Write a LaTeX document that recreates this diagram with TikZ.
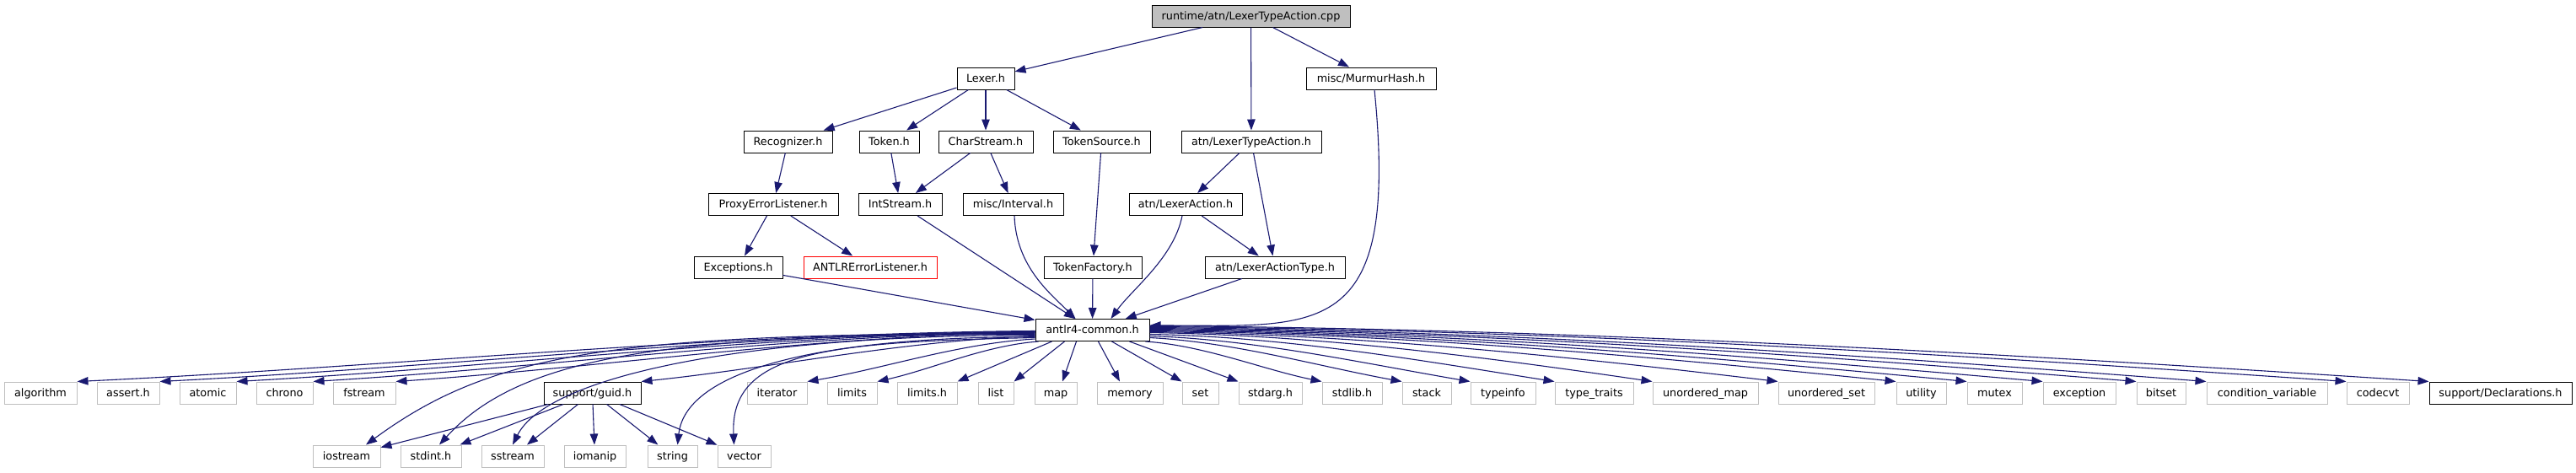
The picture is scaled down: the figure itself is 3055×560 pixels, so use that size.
\documentclass[tikz,border=0pt]{standalone}
\usepackage{fontspec}
\setmainfont{DejaVu Sans}
\usetikzlibrary{arrows.meta,calc}
\definecolor{edgec}{HTML}{191970}
\definecolor{grayb}{HTML}{BFBFBF}
\tikzset{
  box/.style={draw=black, line width=1.0pt, rectangle, inner sep=0pt,
    minimum height=26pt, text height=11pt, text depth=2.6pt,
    font=\fontsize{12.8}{14}\selectfont, text=black},
  sysbox/.style={box, draw=grayb},
  redbox/.style={box, draw=red},
  rootbox/.style={box, fill=grayb},
  mw/.style={minimum width=#1pt},
  edge/.style={draw=edgec, line width=1.1pt, -{Triangle[length=13pt,width=9.5pt]}},
}
\newcommand\fanedge[4]{\draw[edge] let \p1=(#1), \p2=(#2) in (\p1) .. controls ({\x1+(\x2-\x1)/3},{\y1+(\y2-\y1)*#3}) and ({\x2-(\x2-\x1)/3},{\y2-(\y2-\y1)*#4}) .. (\p2);}
\begin{document}
\begin{tikzpicture}[x=1pt,y=-1pt]
\useasboundingbox (0,0) rectangle (3055,560);
% top part
\node[rootbox, mw=235] (root) at (1483.5,19) {runtime/atn/LexerTypeAction.cpp};
\node[box, mw=68] (lexer) at (1169,93) {Lexer.h};
\node[box, mw=154] (murmur) at (1626,93) {misc/MurmurHash.h};
\node[box, mw=105] (recog) at (934.5,168) {Recognizer.h};
\node[box, mw=71] (token) at (1054.5,168) {Token.h};
\node[box, mw=112] (charstream) at (1169,168) {CharStream.h};
\node[box, mw=115] (tokensource) at (1306.5,168) {TokenSource.h};
\node[box, mw=166] (lta) at (1484,168) {atn/LexerTypeAction.h};
\node[box, mw=154] (proxy) at (917,242.5) {ProxyErrorListener.h};
\node[box, mw=99] (intstream) at (1067.5,242.5) {IntStream.h};
\node[box, mw=119] (interval) at (1201.5,242.5) {misc/Interval.h};
\node[box, mw=134] (lexaction) at (1406,242.5) {atn/LexerAction.h};
\node[box, mw=105] (exceptions) at (875.5,317) {Exceptions.h};
\node[redbox, mw=158] (antlrerr) at (1032,317) {ANTLRErrorListener.h};
\node[box, mw=116] (tokenfactory) at (1296,317) {TokenFactory.h};
\node[box, mw=166] (lat) at (1512,317) {atn/LexerActionType.h};
\node[box, mw=135] (common) at (1295.5,391.5) {antlr4-common.h};
% row 6
\node[sysbox, mw=86] (algorithm) at (48,466) {algorithm};
\node[sysbox, mw=74] (asserth) at (152,466) {assert.h};
\node[sysbox, mw=67] (atomic) at (246.5,466) {atomic};
\node[sysbox, mw=67] (chrono) at (337.5,466) {chrono};
\node[sysbox, mw=74] (fstream) at (432,466) {fstream};
\node[box, mw=115] (guid) at (702.5,466) {support/guid.h};
\node[sysbox, mw=71] (iterator) at (921.5,466) {iterator};
\node[sysbox, mw=59] (limits) at (1010.5,466) {limits};
\node[sysbox, mw=71] (limitsh) at (1099.5,466) {limits.h};
\node[sysbox, mw=42] (list) at (1181,466) {list};
\node[sysbox, mw=50] (map) at (1252,466) {map};
\node[sysbox, mw=78] (memory) at (1340,466) {memory};
\node[sysbox, mw=43] (set) at (1423.5,466) {set};
\node[sysbox, mw=75] (stdargh) at (1506.5,466) {stdarg.h};
\node[sysbox, mw=71] (stdlibh) at (1603.5,466) {stdlib.h};
\node[sysbox, mw=58] (stack) at (1692,466) {stack};
\node[sysbox, mw=77] (typeinfo) at (1782.5,466) {typeinfo};
\node[sysbox, mw=93] (typetraits) at (1890.5,466) {type\_traits};
\node[sysbox, mw=125] (umap) at (2022.5,466) {unordered\_map};
\node[sysbox, mw=114] (uset) at (2166,466) {unordered\_set};
\node[sysbox, mw=59] (utility) at (2278.5,466) {utility};
\node[sysbox, mw=65] (mutex) at (2365.5,466) {mutex};
\node[sysbox, mw=86] (exception) at (2466,466) {exception};
\node[sysbox, mw=58] (bitset) at (2563,466) {bitset};
\node[sysbox, mw=143] (condvar) at (2688.5,466) {condition\_variable};
\node[sysbox, mw=74] (codecvt) at (2820,466) {codecvt};
\node[box, mw=169] (decl) at (2965.5,466) {support/Declarations.h};
% row 7
\node[sysbox, mw=80] (iostream) at (411,541) {iostream};
\node[sysbox, mw=72] (stdinth) at (511,541) {stdint.h};
\node[sysbox, mw=74] (sstream) at (608,541) {sstream};
\node[sysbox, mw=73] (iomanip) at (705.5,541) {iomanip};
\node[sysbox, mw=59] (string) at (797.5,541) {string};
\node[sysbox, mw=63] (vector) at (882.5,541) {vector};

% straight edges
\draw[edge] (root) -- (lexer);
\draw[edge] (root) -- (lta);
\draw[edge] (root) -- (murmur);
\draw[edge] (lexer) -- (recog);
\draw[edge] (lexer) -- (token);
\draw[edge] (lexer) -- (charstream);
\draw[edge] (lexer) -- (tokensource);
\draw[edge] (recog) -- (proxy);
\draw[edge] (token) -- (intstream);
\draw[edge] (charstream) -- (intstream);
\draw[edge] (charstream) -- (interval);
\draw[edge] (tokensource) -- (tokenfactory);
\draw[edge] (proxy) -- (exceptions);
\draw[edge] (proxy) -- (antlrerr);
\draw[edge] (lta) -- (lexaction);
\draw[edge] (lta) -- (lat);
\draw[edge] (lexaction) -- (lat);
\draw[edge] (intstream) -- (common);
\draw[edge] (tokenfactory) -- (common);
\draw[edge] (lat) -- (common);
\draw[edge] (exceptions) -- (common);
% curved edges into common
\draw[edge] ($(interval.south)+(1.5,0)$) .. controls +(2,60) and +(-30,-30) .. ($(common.north)+(-20,0)$);
\draw[edge] ($(lexaction.south)+(-4,0)$) .. controls +(-10,50) and +(25,-35) .. ($(common.north)+(22,0)$);
\draw[edge] ($(murmur.south)+(4,0)$) .. controls +(30,300) and +(200,0) .. ($(common.east)+(0,-5.5)$);
% guid edges
\draw[edge] (guid) -- (iostream);
\draw[edge] (guid) -- (stdinth);
\draw[edge] (guid) -- (sstream);
\draw[edge] (guid) -- (iomanip);
\draw[edge] (guid) -- (string);
\draw[edge] (guid) -- (vector);
% left fan
\fanedge{$(common.west)+(0,1)$}{algorithm.north east}{0.05}{0.3}
\fanedge{$(common.west)+(0,1.5)$}{asserth.north east}{0.05}{0.3}
\fanedge{$(common.west)+(0,2)$}{atomic.north east}{0.05}{0.3}
\fanedge{$(common.west)+(0,2.5)$}{chrono.north east}{0.05}{0.3}
\fanedge{$(common.west)+(0,3)$}{fstream.north east}{0.05}{0.3}
\fanedge{$(common.west)+(0,7)$}{guid.north east}{0.1}{0.3}
\fanedge{$(common.south west)+(0,-3)$}{iterator.north east}{0.1}{0.3}
\fanedge{$(common.south west)+(4,0)$}{limits.north east}{0.1}{0.3}
\draw[edge] ($(common.south)+(-48,0)$) -- (limitsh.north east);
\draw[edge] ($(common.south)+(-33,0)$) -- (list.north east);
\draw[edge] ($(common.south)+(-19,0)$) -- ($(map.north)+(8,0)$);
\draw[edge] ($(common.south)+(7,0)$) -- ($(memory.north)+(-12,0)$);
% row 7 curves
\draw[edge] ($(common.west)+(0,4)$) .. controls +(-500,0) and +(150,-110) .. ($(iostream.north)+(23,0)$);
\draw[edge] ($(common.west)+(0,5)$) .. controls +(-420,0) and +(100,-110) .. ($(stdinth.north)+(10,0)$);
\draw[edge] ($(common.west)+(0,6)$) .. controls +(-350,0) and +(40,-80) .. (sstream.north);
\draw[edge] ($(common.west)+(0,8)$) .. controls +(-250,0) and +(10,-90) .. ($(string.north)+(6,0)$);
\draw[edge] ($(common.west)+(0,9)$) .. controls +(-250,5) and +(-5,-110) .. ($(vector.north)+(-12,0)$);
% right fan
\draw[edge] ($(common.south)+(23,0)$) -- (set.north west);
\draw[edge] ($(common.south)+(44,0)$) -- (stdargh.north west);
\fanedge{$(common.south east)+(-5,0)$}{stdlibh.north west}{0.1}{0.3}
\fanedge{$(common.east)+(0,9)$}{stack.north west}{0.1}{0.35}
\fanedge{$(common.east)+(0,7)$}{typeinfo.north west}{0.08}{0.4}
\fanedge{$(common.east)+(0,5)$}{typetraits.north west}{0.05}{0.45}
\fanedge{$(common.east)+(0,3)$}{umap.north west}{0.05}{0.5}
\fanedge{$(common.east)+(0,2)$}{uset.north west}{0.05}{0.5}
\fanedge{$(common.east)+(0,1)$}{utility.north west}{0.05}{0.5}
\fanedge{$(common.east)+(0,0)$}{mutex.north west}{0.05}{0.5}
\fanedge{$(common.east)+(0,-1)$}{exception.north west}{0.05}{0.5}
\fanedge{$(common.east)+(0,-2)$}{bitset.north west}{0.05}{0.5}
\fanedge{$(common.east)+(0,-3)$}{condvar.north west}{0.05}{0.5}
\fanedge{$(common.east)+(0,-4)$}{codecvt.north west}{0.05}{0.5}
\fanedge{$(common.east)+(0,-5)$}{decl.north west}{0.05}{0.5}
\end{tikzpicture}
\end{document}
